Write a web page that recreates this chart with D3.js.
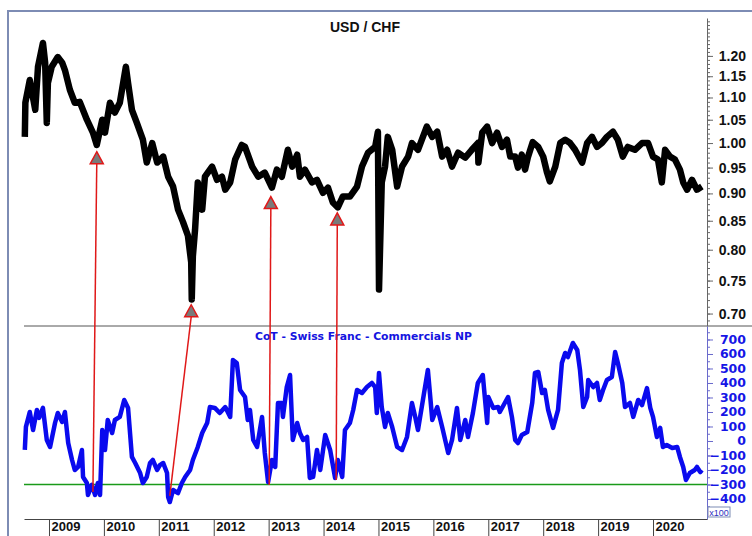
<!DOCTYPE html>
<html>
<head>
<meta charset="utf-8">
<script src="https://cdn.jsdelivr.net/npm/d3@7"></script>
<style>
    body { margin: 0; background: #ffffff; }
    svg { display: block; font-family: "Liberation Sans", Arial, sans-serif; }
    .axisTop text { font-size: 14px; font-weight: bold; fill: #111; }
    .axisBot text { font-family: "DejaVu Sans", Verdana, sans-serif; font-size: 12.5px; font-weight: bold; fill: #1515e6; }
    .axisX text { font-size: 13px; font-weight: bold; fill: #111; }
</style>
</head>
<body>
<script>
// USD/CHF vs CoT Swiss Franc commercials net position

// =======================
// Data (decimal year, value)
// =======================
var usdChf = [
    [2008.56, 1.013], [2008.57, 1.088], [2008.65, 1.141], [2008.75, 1.072], [2008.80, 1.173],
    [2008.89, 1.233], [2008.93, 1.183], [2008.96, 1.043], [2008.98, 1.134], [2009.05, 1.173],
    [2009.16, 1.197], [2009.24, 1.183], [2009.29, 1.165], [2009.38, 1.118], [2009.47, 1.088],
    [2009.56, 1.090], [2009.69, 1.050], [2009.80, 1.022], [2009.87, 0.996], [2009.97, 1.050],
    [2010.02, 1.022], [2010.11, 1.088], [2010.20, 1.066], [2010.29, 1.088], [2010.40, 1.173],
    [2010.44, 1.134], [2010.51, 1.072], [2010.60, 1.043], [2010.71, 1.007], [2010.78, 0.960],
    [2010.88, 1.000], [2010.97, 0.960], [2011.08, 0.972], [2011.17, 0.932], [2011.26, 0.913],
    [2011.35, 0.870], [2011.44, 0.848], [2011.53, 0.824], [2011.59, 0.779], [2011.60, 0.721],
    [2011.62, 0.789], [2011.66, 0.834], [2011.71, 0.921], [2011.79, 0.870], [2011.84, 0.932],
    [2011.97, 0.952], [2012.06, 0.926], [2012.15, 0.932], [2012.21, 0.907], [2012.30, 0.921],
    [2012.39, 0.966], [2012.51, 0.996], [2012.57, 0.992], [2012.70, 0.952], [2012.81, 0.932],
    [2012.93, 0.940], [2013.06, 0.911], [2013.15, 0.946], [2013.24, 0.932], [2013.35, 0.986],
    [2013.43, 0.952], [2013.52, 0.976], [2013.57, 0.932], [2013.66, 0.946], [2013.79, 0.921],
    [2013.88, 0.926], [2013.99, 0.901], [2014.08, 0.911], [2014.17, 0.883], [2014.26, 0.874],
    [2014.35, 0.894], [2014.48, 0.894], [2014.61, 0.913], [2014.70, 0.952], [2014.81, 0.980],
    [2014.94, 0.992], [2014.99, 1.024], [2015.01, 0.736], [2015.06, 0.921], [2015.12, 0.952],
    [2015.17, 1.013], [2015.25, 0.986], [2015.34, 0.913], [2015.43, 0.952], [2015.54, 0.972],
    [2015.61, 1.000], [2015.72, 0.986], [2015.88, 1.035], [2015.98, 1.013], [2016.07, 1.024],
    [2016.16, 0.972], [2016.25, 0.986], [2016.34, 0.952], [2016.45, 0.980], [2016.58, 0.970],
    [2016.70, 0.986], [2016.81, 1.000], [2016.82, 0.960], [2016.89, 1.022], [2016.98, 1.035],
    [2017.07, 1.000], [2017.16, 1.022], [2017.25, 0.992], [2017.34, 1.007], [2017.40, 0.972],
    [2017.49, 0.972], [2017.54, 0.950], [2017.61, 0.976], [2017.67, 0.946], [2017.72, 0.970],
    [2017.81, 1.002], [2017.91, 0.992], [2018.00, 0.972], [2018.07, 0.940], [2018.12, 0.923],
    [2018.22, 0.952], [2018.31, 1.000], [2018.40, 1.007], [2018.49, 1.000], [2018.58, 0.986],
    [2018.71, 0.960], [2018.80, 1.000], [2018.89, 1.013], [2018.98, 0.992], [2019.07, 1.000],
    [2019.16, 1.013], [2019.27, 1.024], [2019.36, 1.007], [2019.45, 0.972], [2019.54, 0.992],
    [2019.67, 0.986], [2019.80, 1.000], [2019.91, 1.000], [2020.00, 0.972], [2020.09, 0.966],
    [2020.16, 0.921], [2020.22, 0.986], [2020.31, 0.972], [2020.40, 0.966], [2020.49, 0.946],
    [2020.55, 0.921], [2020.62, 0.907], [2020.71, 0.926], [2020.80, 0.907], [2020.89, 0.913]
];

// CoT net position, in hundreds of contracts (x100)
var cotNet = [
    [2008.56, -62], [2008.58, 97], [2008.65, 200], [2008.71, 76], [2008.78, 214],
    [2008.82, 159], [2008.89, 228], [2008.96, 7], [2009.02, -41], [2009.11, 124],
    [2009.16, 193], [2009.24, 131], [2009.29, 200], [2009.35, -14], [2009.42, -131],
    [2009.47, -200], [2009.53, -179], [2009.60, -62], [2009.62, -248], [2009.69, -290],
    [2009.71, -372], [2009.78, -303], [2009.84, -372], [2009.89, -290], [2009.93, -372],
    [2009.97, 76], [2010.02, -62], [2010.07, 145], [2010.15, 55], [2010.20, 145],
    [2010.29, 166], [2010.37, 283], [2010.44, 228], [2010.51, -110], [2010.57, -152],
    [2010.66, -221], [2010.71, -290], [2010.78, -248], [2010.84, -152], [2010.89, -131],
    [2010.97, -200], [2011.02, -166], [2011.08, -152], [2011.15, -221], [2011.17, -386],
    [2011.20, -421], [2011.26, -338], [2011.35, -359], [2011.42, -290], [2011.48, -248],
    [2011.57, -200], [2011.62, -131], [2011.71, -41], [2011.79, 55], [2011.88, 124],
    [2011.93, 234], [2012.02, 228], [2012.11, 193], [2012.21, 234], [2012.30, 166],
    [2012.35, 559], [2012.42, 538], [2012.48, 352], [2012.57, 303], [2012.62, 145],
    [2012.66, 214], [2012.72, 7], [2012.79, -41], [2012.88, 166], [2012.93, -83],
    [2012.99, -283], [2013.06, -131], [2013.12, -179], [2013.17, 262], [2013.24, 262],
    [2013.26, 166], [2013.33, 372], [2013.39, 455], [2013.44, 7], [2013.52, 124],
    [2013.57, 55], [2013.63, 7], [2013.70, 28], [2013.75, -255], [2013.81, -248],
    [2013.88, -62], [2013.94, -200], [2014.03, 41], [2014.12, -62], [2014.21, -255],
    [2014.26, -131], [2014.34, -248], [2014.39, 76], [2014.48, 124], [2014.54, 214],
    [2014.61, 352], [2014.70, 331], [2014.79, 372], [2014.88, 400], [2014.94, 372],
    [2014.97, 193], [2015.01, 469], [2015.06, 234], [2015.12, 97], [2015.17, 193],
    [2015.25, 97], [2015.34, -41], [2015.43, -62], [2015.52, 28], [2015.61, 262],
    [2015.67, 166], [2015.72, 76], [2015.81, 283], [2015.90, 490], [2015.98, 145],
    [2016.07, 234], [2016.16, 97], [2016.27, -83], [2016.34, 7], [2016.43, 228],
    [2016.49, 7], [2016.58, 145], [2016.63, 28], [2016.72, 193], [2016.81, 400],
    [2016.90, 455], [2016.98, 124], [2017.00, 303], [2017.09, 228], [2017.18, 234],
    [2017.21, 200], [2017.30, 262], [2017.36, 303], [2017.43, 166], [2017.49, 7],
    [2017.54, -14], [2017.61, 41], [2017.71, 62], [2017.80, 262], [2017.85, 469],
    [2017.91, 476], [2017.98, 331], [2018.03, 352], [2018.09, 214], [2018.18, 90],
    [2018.27, 214], [2018.34, 538], [2018.40, 607], [2018.45, 579], [2018.54, 676],
    [2018.62, 628], [2018.67, 490], [2018.73, 234], [2018.80, 303], [2018.82, 421],
    [2018.91, 372], [2018.98, 400], [2019.03, 283], [2019.09, 352], [2019.16, 421],
    [2019.25, 441], [2019.31, 614], [2019.36, 538], [2019.44, 400], [2019.49, 234],
    [2019.58, 262], [2019.64, 166], [2019.73, 283], [2019.80, 248], [2019.89, 365],
    [2019.95, 228], [2020.00, 166], [2020.07, 28], [2020.13, 90], [2020.18, -41],
    [2020.25, -28], [2020.35, -48], [2020.44, -41], [2020.49, -110], [2020.55, -179],
    [2020.60, -269], [2020.67, -221], [2020.76, -200], [2020.80, -179], [2020.86, -214],
    [2020.89, -200]
];

// =======================
// Ticks, threshold and arrows
// =======================
var yearTicks = [2009, 2010, 2011, 2012, 2013, 2014, 2015, 2016, 2017, 2018, 2019, 2020];
var priceTicks = [0.70, 0.75, 0.80, 0.85, 0.90, 0.95, 1.00, 1.05, 1.10, 1.15, 1.20];
var cotTicks = [-400, -300, -200, -100, 0, 100, 200, 300, 400, 500, 600, 700];
var cotThreshold = -300;

// each arrow: from a CoT low up to the matching USD/CHF low
var arrowFromYear  = [2009.80, 2011.20, 2013.01, 2014.23];
var arrowFromCot   = [-352, -379, -303, -269];
var arrowToYear    = [2009.87, 2011.59, 2013.04, 2014.25];
var arrowToPrice   = [0.982, 0.713, 0.894, 0.864];

window.onload = function(){

    var w = 752,
        h = 536;

    var svg = d3.select("body")
        .append("svg")
        .attr("width", w)
        .attr("height", h);

    // =======================
    // Scales
    // =======================
    var x = d3.scaleLinear()
        .domain([2008.545, 2020.983])
        .range([24, 707]);

    var yTop = d3.scaleLog()
        .domain([0.682, 1.299])
        .range([326, 18]);

    var yBot = d3.scaleLinear()
        .domain([-538, 793])
        .range([519, 326]);

    // =======================
    // Frame
    // =======================
    svg.append("line")
        .attr("x1", 8).attr("x2", w)
        .attr("y1", 11).attr("y2", 11)
        .style("stroke", "#7d8cb4")
        .style("stroke-width", 2);

    svg.append("line")
        .attr("x1", 8).attr("x2", 8)
        .attr("y1", 10).attr("y2", h)
        .style("stroke", "#7d8cb4")
        .style("stroke-width", 2);

    // separator between the two panels
    svg.append("line")
        .attr("x1", 24).attr("x2", w)
        .attr("y1", 326).attr("y2", 326)
        .style("stroke", "#555")
        .style("stroke-width", 1);

    // =======================
    // Right axis, top panel (log)
    // =======================
    var minorPrices = d3.range(69, 130).map(function(d){ return d / 100; });

    svg.append("g")
        .attr("transform", "translate(707,0)")
        .call(d3.axisRight(yTop).tickValues(minorPrices).tickSize(3).tickFormat(""))
        .call(function(g){
            g.select(".domain").remove();
            g.selectAll("line").style("stroke", "#666");
        });

    svg.append("g")
        .attr("class", "axisTop")
        .attr("transform", "translate(707,0)")
        .call(d3.axisRight(yTop).tickValues(priceTicks).tickSize(6).tickSizeOuter(0)
            .tickFormat(d3.format(".2f")))
        .call(function(g){
            g.select(".domain").style("stroke", "#666");
            g.selectAll("line").style("stroke", "#666");
            g.selectAll("text")
                .attr("x", 39)
                .attr("text-anchor", "end");
        });

    // =======================
    // Right axis, bottom panel
    // =======================
    svg.append("g")
        .attr("transform", "translate(707,0)")
        .call(d3.axisRight(yBot).tickValues(d3.range(-500, 800, 50)).tickSize(3).tickFormat(""))
        .call(function(g){
            g.select(".domain").remove();
            g.selectAll("line").style("stroke", "#6a6acc");
        });

    svg.append("g")
        .attr("class", "axisBot")
        .attr("transform", "translate(707,0)")
        .call(d3.axisRight(yBot).tickValues(cotTicks).tickSize(6).tickSizeOuter(0))
        .call(function(g){
            g.select(".domain").style("stroke", "#6a6acc");
            g.selectAll("line").style("stroke", "#6a6acc");
            g.selectAll("text")
                .attr("x", 39)
                .attr("text-anchor", "end");
        });

    // x100 box
    svg.append("rect")
        .attr("x", 708).attr("y", 507)
        .attr("width", 22).attr("height", 10)
        .style("fill", "#fff")
        .style("stroke", "#7d8cb4")
        .style("stroke-width", 1);

    svg.append("text")
        .attr("x", 719).attr("y", 515.5)
        .attr("text-anchor", "middle")
        .style("font-size", "9px")
        .style("fill", "#3030c0")
        .text("x100");

    // =======================
    // Bottom (time) axis
    // =======================
    svg.append("g")
        .attr("class", "axisX")
        .attr("transform", "translate(0,519)")
        .call(d3.axisBottom(x).tickValues(yearTicks).tickSize(17).tickSizeOuter(0)
            .tickFormat(d3.format("d")))
        .call(function(g){
            g.select(".domain").style("stroke", "#444");
            g.selectAll("line").style("stroke", "#444");
            g.selectAll("text")
                .attr("x", 2)
                .attr("y", 12)
                .attr("dy", 0)
                .attr("text-anchor", "start");
        });

    // =======================
    // Titles
    // =======================
    svg.append("text")
        .attr("x", 365)
        .attr("y", 32)
        .attr("text-anchor", "middle")
        .style("font-size", "14px")
        .style("font-weight", "bold")
        .style("fill", "#111")
        .text("USD / CHF");

    svg.append("text")
        .attr("x", 255)
        .attr("y", 340)
        .style("font-family", "'DejaVu Sans', Verdana, sans-serif")
        .style("font-size", "10.8px")
        .style("font-weight", "bold")
        .style("fill", "#1414e0")
        .text("CoT - Swiss Franc - Commercials NP");

    // =======================
    // Threshold line
    // =======================
    svg.append("line")
        .attr("x1", x.range()[0]).attr("x2", x.range()[1])
        .attr("y1", yBot(cotThreshold)).attr("y2", yBot(cotThreshold))
        .style("stroke", "#1a9a1a")
        .style("stroke-width", 1.5);

    // =======================
    // Series
    // =======================
    var priceLine = d3.line()
        .x(function(d){ return x(d[0]); })
        .y(function(d){ return yTop(d[1]); });

    svg.append("path")
        .datum(usdChf)
        .attr("d", priceLine)
        .style("fill", "none")
        .style("stroke", "#000")
        .style("stroke-width", 6.5)
        .style("stroke-linejoin", "round");

    var cotLine = d3.line()
        .x(function(d){ return x(d[0]); })
        .y(function(d){ return yBot(d[1]); });

    svg.append("path")
        .datum(cotNet)
        .attr("d", cotLine)
        .style("fill", "none")
        .style("stroke", "#0a0aee")
        .style("stroke-width", 4.5)
        .style("stroke-linejoin", "round");

    // =======================
    // Arrows
    // =======================
    var arrows = arrowFromYear.map(function(d, i){
        return {
            x1: x(d),
            y1: yBot(arrowFromCot[i]),
            x2: x(arrowToYear[i]),
            y2: yTop(arrowToPrice[i])
        };
    });

    svg.selectAll(".arrowLine")
        .data(arrows)
        .enter()
        .append("line")
        .attr("class", "arrowLine")
        .attr("x1", function(d){ return d.x1; })
        .attr("y1", function(d){ return d.y1; })
        .attr("x2", function(d){ return d.x2; })
        .attr("y2", function(d){ return d.y2 + 12; })
        .style("stroke", "#e01818")
        .style("stroke-width", 1.5);

    svg.selectAll(".arrowHead")
        .data(arrows)
        .enter()
        .append("path")
        .attr("class", "arrowHead")
        .attr("d", function(d){
            return "M" + d.x2 + "," + d.y2 +
                "L" + (d.x2 + 6.5) + "," + (d.y2 + 12) +
                "L" + (d.x2 - 6.5) + "," + (d.y2 + 12) + "Z";
        })
        .style("fill", "#7a7a7a")
        .style("stroke", "#e01818")
        .style("stroke-width", 1.5)
        .style("stroke-linejoin", "miter");

};
</script>
</body>
</html>
